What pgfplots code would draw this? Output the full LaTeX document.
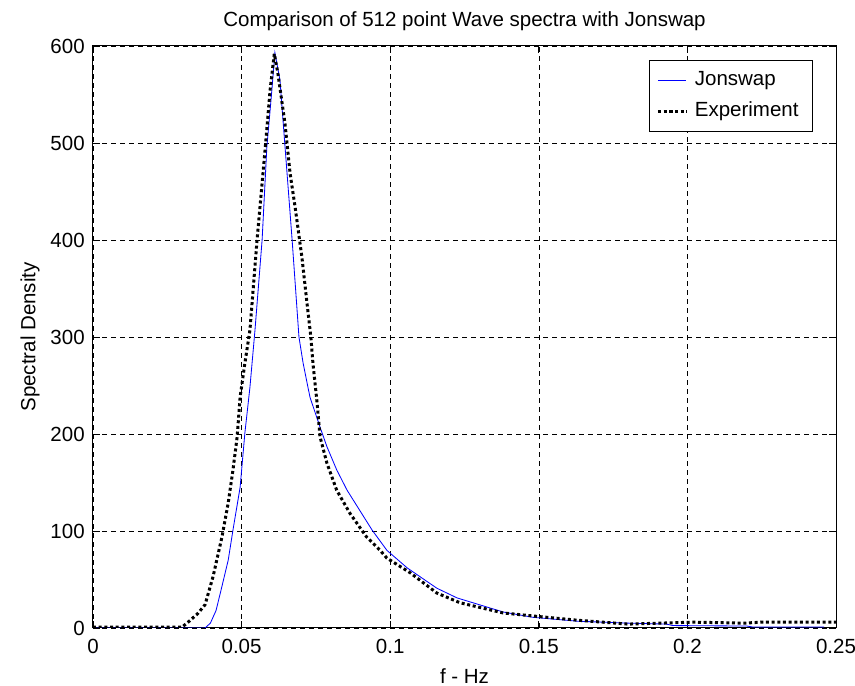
\documentclass[border=0pt]{standalone}
\usepackage{fontspec}
\setmainfont{Liberation Sans}
\usepackage{pgfplots}
\pgfplotsset{compat=1.18}
\usetikzlibrary{calc}

\pgfplotstableread{
x y
0 0
0.035 0
0.0377 0
0.0395 5
0.0414 18
0.043 38
0.0455 70
0.0471 101
0.0495 145
0.0511 201
0.0528 248
0.0545 307
0.0569 400
0.0585 496
0.0602 555
0.0612 593
0.0629 565
0.067 400
0.0693 300
0.0707 273
0.073 238
0.0764 207
0.0787 187
0.082 163
0.0855 142
0.0898 121
0.0939 101
0.0989 80
0.1057 62
0.1157 41
0.1225 31
0.138 16.5
0.148 11
0.163 7
0.18 5
0.193 4
0.195 2.5
0.22 2
0.222 1
0.246 1
}\jonswap

\pgfplotstableread{
x y
0 1
0.030 1
0.032 6
0.0353 15
0.0377 24
0.0404 53
0.0434 94
0.0455 129
0.0471 163
0.0485 197
0.0495 238
0.0511 273
0.0528 307
0.0552 400
0.0579 493
0.0596 555
0.061 592
0.0622 572
0.0646 520
0.0663 469
0.068 434
0.0703 382
0.072 335
0.0733 300
0.074 273
0.0754 232
0.0764 197
0.0787 170
0.082 142
0.0865 118
0.092 94
0.0966 80
0.0989 72
0.1067 57
0.1157 36
0.1235 26
0.138 15.5
0.148 12.4
0.163 8
0.18 4
0.191 5
0.202 6
0.219 5
0.225 6
0.25 6
}\experiment

\begin{document}
\fontsize{12.3}{14.8}\selectfont
\begin{tikzpicture}
\begin{axis}[
  name=ax,
  scale only axis,
  width=445.8pt, height=349.2pt,
  xmin=0, xmax=0.25, ymin=0, ymax=600,
  xtick={0,0.05,0.1,0.15,0.2,0.25},
  xticklabels={0,0.05,0.1,0.15,0.2,0.25},
  ytick={0,100,200,300,400,500,600},
  /pgf/number format/assume math mode=true,
  tick align=inside,
  major tick length=4.4pt,
  tick style={black, line width=0.4pt},
  grid=major,
  major grid style={black, dash pattern=on 3pt off 2.4pt, line width=0.35pt},
  axis line style={line width=0.6pt},
  xticklabel style={yshift=-2.3pt},
  yticklabel style={xshift=-0.7pt},
  title={Comparison of 512 point Wave spectra with Jonswap},
  title style={at={(axis description cs:0.5,1.043)}, anchor=center, yshift=-6pt},
  xlabel={f - Hz},
  xlabel style={at={(axis description cs:0.5,-0.0825)}, anchor=center},
  ylabel={Spectral Density},
  ylabel style={at={(axis description cs:-0.0848,0.5)}, anchor=center},
  legend style={at={(axis description cs:0.969,0.976)}, anchor=north east,
    draw=black, line width=0.5pt, fill=white, inner xsep=4.2pt, inner ysep=5.8pt,
    row sep=7pt,
    nodes={inner xsep=4.2pt, inner ysep=0pt, text height=9pt, text depth=3pt},
    font=\fontsize{12.3}{14.8}\selectfont},
  legend cell align=left,
]
\addplot[blue, line width=0.5pt] table[x=x,y=y] {\jonswap};
\addlegendentry{Jonswap}
\addplot[black, line width=1.8pt, dash pattern=on 1.8pt off 1.6pt] table[x=x,y=y] {\experiment};
\addlegendentry{Experiment}
\end{axis}
\pgfresetboundingbox
\path ($(ax.south west)+(-55.8pt,-34.8pt)$) rectangle ($(ax.north east)+(11.4pt,27.6pt)$);
\end{tikzpicture}
\end{document}
